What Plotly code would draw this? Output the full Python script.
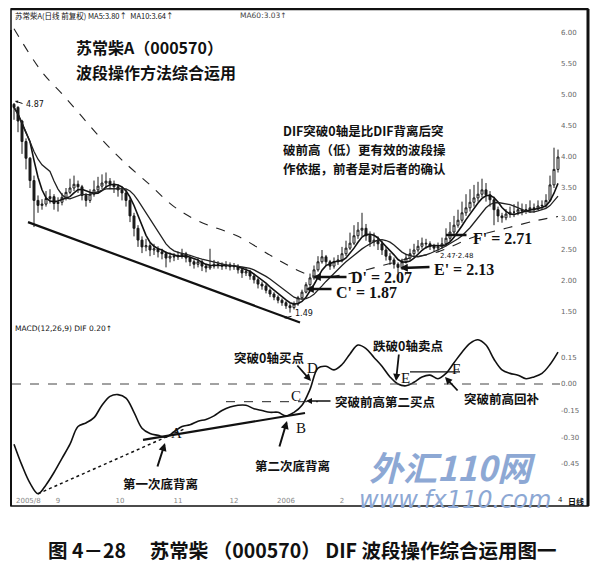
import plotly.graph_objects as go
import pandas as pd

# ---------------- data ----------------
first_open = 4.85
close = [4.80, 4.58, 4.25, 3.98, 3.62, 3.30, 3.22, 3.24, 3.33, 3.36,
         3.25, 3.27, 3.35, 3.43, 3.50, 3.56, 3.52, 3.38, 3.30, 3.40,
         3.47, 3.53, 3.58, 3.61, 3.56, 3.52, 3.47, 3.42, 3.30, 3.05,
         2.85, 2.66, 2.55, 2.57, 2.50, 2.52, 2.47, 2.44, 2.37, 2.40,
         2.39, 2.41, 2.44, 2.37, 2.31, 2.27, 2.31, 2.24, 2.21, 2.24,
         2.27, 2.26, 2.24, 2.26, 2.23, 2.24, 2.18, 2.13, 2.15, 2.08,
         2.02, 1.95, 1.92, 1.85, 1.79, 1.74, 1.69, 1.65, 1.60, 1.57,
         1.63, 1.73, 1.82, 1.94, 2.05, 2.18, 2.31, 2.39, 2.31, 2.24,
         2.31, 2.34, 2.44, 2.53, 2.61, 2.73, 2.82, 2.85, 2.73, 2.63,
         2.66, 2.60, 2.50, 2.40, 2.34, 2.27, 2.22, 2.31, 2.37, 2.44,
         2.50, 2.56, 2.61, 2.60, 2.56, 2.53, 2.55, 2.60, 2.69, 2.79,
         2.90, 2.98, 3.10, 3.18, 3.27, 3.34, 3.40, 3.47, 3.39, 3.31,
         3.15, 3.05, 3.02, 3.08, 3.11, 3.11, 3.15, 3.13, 3.15, 3.18,
         3.16, 3.21, 3.22, 3.30, 3.55, 3.80, 4.00]
high = [4.87, 4.82, 4.60, 4.30, 4.00, 3.70, 3.38, 3.32, 3.45, 3.48,
        3.40, 3.35, 3.42, 3.50, 3.65, 3.70, 3.62, 3.55, 3.42, 3.48,
        3.62, 3.68, 3.72, 3.75, 3.66, 3.62, 3.56, 3.52, 3.46, 3.35,
        3.10, 2.90, 2.72, 2.68, 2.62, 2.60, 2.56, 2.52, 2.48, 2.46,
        2.45, 2.48, 2.52, 2.47, 2.40, 2.35, 2.38, 2.34, 2.28, 2.52,
        2.34, 2.32, 2.30, 2.32, 2.30, 2.29, 2.27, 2.22, 2.22, 2.18,
        2.12, 2.05, 1.99, 1.95, 1.88, 1.82, 1.77, 1.72, 1.68, 1.64,
        1.67, 1.76, 1.86, 1.98, 2.12, 2.25, 2.40, 2.50, 2.42, 2.34,
        2.38, 2.42, 2.55, 2.65, 2.78, 2.90, 2.95, 3.10, 2.92, 2.80,
        2.78, 2.72, 2.65, 2.55, 2.45, 2.38, 2.30, 2.36, 2.44, 2.52,
        2.60, 2.66, 2.70, 2.68, 2.64, 2.60, 2.62, 2.70, 2.85, 2.95,
        3.05, 3.15, 3.28, 3.40, 3.48, 3.55, 3.60, 3.65, 3.58, 3.45,
        3.36, 3.20, 3.10, 3.16, 3.20, 3.24, 3.28, 3.25, 3.24, 3.30,
        3.25, 3.30, 3.30, 3.40, 3.70, 4.15, 4.12]
low = [4.60, 4.40, 4.05, 3.80, 3.50, 2.87, 3.10, 3.15, 3.20, 3.25,
       3.15, 3.12, 3.22, 3.30, 3.40, 3.45, 3.42, 3.30, 3.20, 3.26,
       3.36, 3.42, 3.48, 3.50, 3.48, 3.42, 3.36, 3.30, 3.20, 2.95,
       2.72, 2.55, 2.45, 2.48, 2.40, 2.42, 2.38, 2.35, 2.22, 2.30,
       2.32, 2.34, 2.36, 2.30, 2.24, 2.20, 2.22, 2.16, 2.14, 2.18,
       2.20, 2.20, 2.18, 2.19, 2.17, 2.18, 2.12, 2.05, 2.08, 2.02,
       1.96, 1.88, 1.86, 1.80, 1.74, 1.69, 1.64, 1.60, 1.55, 1.49,
       1.54, 1.60, 1.70, 1.80, 1.90, 2.02, 2.15, 2.28, 2.25, 2.18,
       2.20, 2.26, 2.30, 2.40, 2.50, 2.58, 2.68, 2.72, 2.65, 2.55,
       2.56, 2.50, 2.42, 2.33, 2.26, 2.20, 2.13, 2.18, 2.28, 2.34,
       2.40, 2.46, 2.52, 2.52, 2.50, 2.47, 2.48, 2.52, 2.56, 2.64,
       2.74, 2.86, 2.94, 3.05, 3.12, 3.20, 3.28, 3.35, 3.28, 3.20,
       2.90, 2.95, 2.94, 2.98, 3.02, 3.03, 3.06, 3.06, 3.08, 3.10,
       3.10, 3.14, 3.15, 3.18, 3.28, 3.50, 3.75]

ma_long_idx = [0, 7, 12, 17, 22, 27, 34, 40, 46, 56, 65, 72, 76, 84, 91, 99, 106, 115, 123, 131, 136]
ma_long_val = [6.07, 5.37, 5.02, 4.65, 4.28, 3.95, 3.55, 3.20, 2.97, 2.72, 2.38, 2.14, 2.07, 2.12,
               2.23, 2.37, 2.47, 2.71, 2.85, 2.98, 3.04]

dif_idx = list(range(0, 137, 2))
dif_val = [-0.34, -0.46, -0.56, -0.62, -0.57, -0.50, -0.42, -0.34, -0.24, -0.22,
           -0.19, -0.12, -0.07, -0.06, -0.08, -0.16, -0.25, -0.28, -0.29, -0.30,
           -0.27, -0.24, -0.23, -0.21, -0.20, -0.18, -0.15, -0.13, -0.12, -0.12,
           -0.14, -0.15, -0.16, -0.16, -0.18, -0.16, -0.12, -0.03, 0.09, 0.10,
           0.08, 0.11, 0.17, 0.22, 0.20, 0.15, 0.10, 0.04, 0.00, -0.01,
           0.01, 0.04, 0.05, 0.03, 0.06, 0.12, 0.18, 0.23, 0.25, 0.22,
           0.14, 0.08, 0.06, 0.05, 0.03, 0.04, 0.06, 0.11, 0.18]

price_ticks = [1.5, 2.0, 2.5, 3.0, 3.5, 4.0, 4.5, 5.0, 5.5, 6.0]
price_tick_text = ["1.50", "2.00", "2.50", "3.00", "3.50", "4.00", "4.50", "5.00", "5.50", "6.00"]
macd_ticks = [0.15, 0.0, -0.15, -0.30, -0.45]
macd_tick_text = ["0.15", "0.00", "-0.15", "-0.30", "-0.45"]
first_date_label = "2005/8"
date_tick_idx = [11, 26.5, 41, 55, 68, 82]
date_tick_text = ["9", "10", "11", "12", "2006", "2"]

# analysis lines (bar index, value)
price_trend = [(3.5, 2.95), (71.5, 1.33)]
dif_dotted = [(6, -0.62), (43, -0.25)]
dif_solid = [(32.25, -0.316), (72.75, -0.164)]
dif_prev_high = [(53, -0.10), (76, -0.10)]
dif_ef = [(99, 0.068), (111.5, 0.068)]

# ---------------- figure ----------------
# the page body has an 8px margin, so the figure is 8px smaller and all
# coordinates below are given in the 605x566 window space
OFF = 8
W, H = 605 - OFF, 566 - OFF
PL, PR, PT, PB = 12, 560, 10, 506          # plot area in window pixels
ML, MR, MT, MB = PL - OFF, W - (PR - OFF), PT - OFF, H - (PB - OFF)
PW, PH = PR - PL, PB - PT


def px(x):
    return (x - PL) / PW


def py(y):
    return (PB - y) / PH


opens = [first_open] + close[:-1]
idx = list(range(len(close)))
ma5 = pd.Series(close).rolling(5, min_periods=1).mean()
ma10 = pd.Series(close).rolling(10, min_periods=1).mean()

fig = go.Figure()
fig.add_trace(go.Candlestick(
    x=idx, open=opens, high=high, low=low, close=close,
    increasing=dict(line=dict(color="#1a1a1a", width=1), fillcolor="white"),
    decreasing=dict(line=dict(color="#1a1a1a", width=1), fillcolor="#1a1a1a"),
    whiskerwidth=0, xaxis="x", yaxis="y", showlegend=False))
fig.add_trace(go.Scatter(x=idx, y=ma5, mode="lines", line=dict(color="#111", width=1.6),
                         xaxis="x", yaxis="y", showlegend=False))
fig.add_trace(go.Scatter(x=idx, y=ma10, mode="lines", line=dict(color="#222", width=1.3),
                         xaxis="x", yaxis="y", showlegend=False))
fig.add_trace(go.Scatter(x=ma_long_idx, y=ma_long_val, mode="lines",
                         line=dict(color="#222", width=1.1, dash="dash", shape="spline"),
                         xaxis="x", yaxis="y", showlegend=False))
fig.add_trace(go.Scatter(x=dif_idx, y=dif_val, mode="lines",
                         line=dict(color="#111", width=1.6, shape="spline"),
                         xaxis="x2", yaxis="y2", showlegend=False))

main_dom = [py(325), 1.0]
macd_dom = [py(495), py(325)]

fig.update_layout(
    width=W, height=H, margin=dict(l=ML, r=MR, t=MT, b=MB),
    paper_bgcolor="white", plot_bgcolor="white",
    xaxis=dict(domain=[0, 1], range=[-0.5, 136.5], anchor="y", showticklabels=False,
               showgrid=False, zeroline=False, rangeslider=dict(visible=False), fixedrange=True),
    yaxis=dict(domain=main_dom, range=[2 - 44 / 62, 2 + 271 / 62], side="right",
               tickvals=price_ticks, ticktext=price_tick_text, showgrid=False, zeroline=False,
               tickfont=dict(size=7, color="#666", family="DejaVu Sans"), ticks=""),
    xaxis2=dict(domain=[0, 1], range=[-0.5, 136.5], anchor="y2", showgrid=False, zeroline=False,
                tickvals=date_tick_idx, ticktext=date_tick_text, ticks="",
                tickfont=dict(size=7, color="#888", family="DejaVu Sans")),
    yaxis2=dict(domain=macd_dom, range=[-(495 - 384) / 177, (384 - 325) / 177], side="right",
                anchor="x2", tickvals=macd_ticks, ticktext=macd_tick_text, showgrid=False,
                zeroline=False, ticks="",
                tickfont=dict(size=7, color="#666", family="DejaVu Sans")),
)

shapes = []
# frame
shapes.append(dict(type="rect", xref="paper", yref="paper", x0=px(11), x1=px(588), y0=py(506), y1=py(9),
                   line=dict(color="#111", width=1.5)))
shapes.append(dict(type="line", xref="paper", yref="paper", x0=px(588), x1=px(588), y0=py(506), y1=py(9),
                   line=dict(color="#111", width=3)))
shapes.append(dict(type="line", xref="paper", yref="paper", x0=px(11), x1=px(11), y0=py(506), y1=py(30),
                   line=dict(color="#111", width=2)))
shapes.append(dict(type="line", xref="paper", yref="paper", x0=px(11), x1=px(588), y0=py(9), y1=py(9),
                   line=dict(color="#111", width=2.5)))
# zero line MACD
shapes.append(dict(type="line", xref="x2 domain", yref="y2", x0=0, x1=1, y0=0, y1=0,
                   line=dict(color="#444", width=1, dash="dash")))
# price trendline
shapes.append(dict(type="line", xref="x", yref="y", x0=price_trend[0][0], y0=price_trend[0][1],
                   x1=price_trend[1][0], y1=price_trend[1][1], line=dict(color="#111", width=2.2)))
# MACD lines
shapes.append(dict(type="line", xref="x2", yref="y2", x0=dif_dotted[0][0], y0=dif_dotted[0][1],
                   x1=dif_dotted[1][0], y1=dif_dotted[1][1], line=dict(color="#111", width=1.5, dash="dot")))
shapes.append(dict(type="line", xref="x2", yref="y2", x0=dif_solid[0][0], y0=dif_solid[0][1],
                   x1=dif_solid[1][0], y1=dif_solid[1][1], line=dict(color="#111", width=2.2)))
shapes.append(dict(type="line", xref="x2", yref="y2", x0=dif_prev_high[0][0], y0=dif_prev_high[0][1],
                   x1=dif_prev_high[1][0], y1=dif_prev_high[1][1], line=dict(color="#222", width=1, dash="dash")))
shapes.append(dict(type="line", xref="x2", yref="y2", x0=dif_ef[0][0], y0=dif_ef[0][1],
                   x1=dif_ef[1][0], y1=dif_ef[1][1], line=dict(color="#111", width=1.3)))
fig.update_layout(shapes=shapes)

CJK = "Noto Sans CJK SC"
SERIF = "Liberation Serif"
ann = []


def text(x, y, t, size, family=CJK, color="#111", xanchor="left", bold=True):
    ann.append(dict(x=px(x), y=py(y), xref="paper", yref="paper", text=("<b>%s</b>" % t) if bold else t,
                    showarrow=False, xanchor=xanchor, yanchor="middle",
                    font=dict(size=size, family=family, color=color)))


def arrow(x0, y0, x1, y1, width=1.5, head=2, size=1.0):
    # tail (x0,y0) -> head (x1,y1), window pixel coords
    ann.append(dict(x=px(x1), y=py(y1), xref="paper", yref="paper", text="", showarrow=True,
                    ax=x0 - x1, ay=y0 - y1, axref="pixel", ayref="pixel",
                    arrowhead=head, arrowsize=size, arrowwidth=width, arrowcolor="#111"))


# header texts
text(13, 15, "苏常柴A(日线 前复权) MA5:3.80↑  MA10:3.64↑", 7.5, family=CJK, bold=False)
text(238, 15, "MA60:3.03↑", 7.5, family="DejaVu Sans", bold=False, color="#444")
text(13, 329, "MACD(12,26,9) DIF 0.20↑", 7.5, family="DejaVu Sans", bold=False)
text(14, 501, first_date_label, 7, family="DejaVu Sans", color="#888", bold=False)

# titles
text(74, 47, "苏常柴A（000570）", 16)
text(74, 72, "波段操作方法综合运用", 16)
text(281, 130, "DIF突破0轴是比DIF背离后突", 12.5)
text(281, 149, "破前高（低）更有效的波段操", 12.5)
text(281, 168, "作依据，前者是对后者的确认", 12.5)

# price labels
text(24, 104, "4.87", 8, family="DejaVu Sans", bold=False)
arrow(24, 104, 15, 101, width=1, head=2, size=0.6)
text(293, 313, "1.49", 8, family="DejaVu Sans", bold=False)
arrow(293, 316, 284, 318, width=1, head=2, size=0.6)
text(438, 256, "2.47·2.48", 7, family="DejaVu Sans", bold=False)

arrow(333, 289, 306, 289, width=2.6, head=2, size=0.6)
text(334, 292, "C' = 1.87", 16, family=SERIF)
arrow(348, 277, 313, 277, width=2.6, head=2, size=0.6)
text(349, 277, "D' = 2.07", 16, family=SERIF)
arrow(431, 267, 400, 268, width=2.6, head=2, size=0.6)
text(432, 269, "E' = 2.13", 16, family=SERIF)
arrow(468, 235, 446, 235, width=2.6, head=0, size=0.6)
text(471, 238, "F' = 2.71", 16, family=SERIF)

# MACD letters
for (lx, ly, lt) in [(176, 433, "A"), (301, 428, "B"), (296, 396, "C"), (312, 368, "D"),
                     (405, 378, "E"), (456, 369, "F")]:
    text(lx, ly, lt, 15, family=SERIF, xanchor="center", bold=False)

# MACD callouts
text(160, 483, "第一次底背离", 12.5, xanchor="center")
arrow(157, 468, 165, 443, width=2, head=2, size=0.8)
text(292, 465, "第二次底背离", 12.5, xanchor="center")
arrow(279, 448, 287, 421, width=2, head=2, size=0.8)
text(269, 357, "突破0轴买点", 12.5, xanchor="center")
arrow(296, 364, 311, 381, width=1.8, head=2, size=0.8)
text(408, 345, "跌破0轴卖点", 12.5, xanchor="center")
arrow(399, 353, 396, 381, width=1.8, head=2, size=0.8)
text(502, 398, "突破前高回补", 12.5, xanchor="center")
arrow(459, 392, 445, 377, width=1.8, head=2, size=0.8)
text(333, 401, "突破前高第二买点", 12.5)
arrow(332, 401, 306, 401, width=1.5, head=2, size=0.8)

# bottom-right
text(556, 500, "4", 7, family="DejaVu Sans", bold=False)
text(566, 501, "日线", 8)

# watermark
text(452, 466, "<i>外汇110网</i>", 34, color="#8da8d4", xanchor="center")
text(455, 500, "<i>www.fx110.com</i>", 24, family="DejaVu Sans", color="#8da8d4", xanchor="center", bold=False)

# caption
text(302, 549, "图 4－28　 苏常柴 （000570） DIF 波段操作综合运用图一", 19.5, xanchor="center")

fig.update_layout(annotations=ann)
fig.write_html("out.html")
